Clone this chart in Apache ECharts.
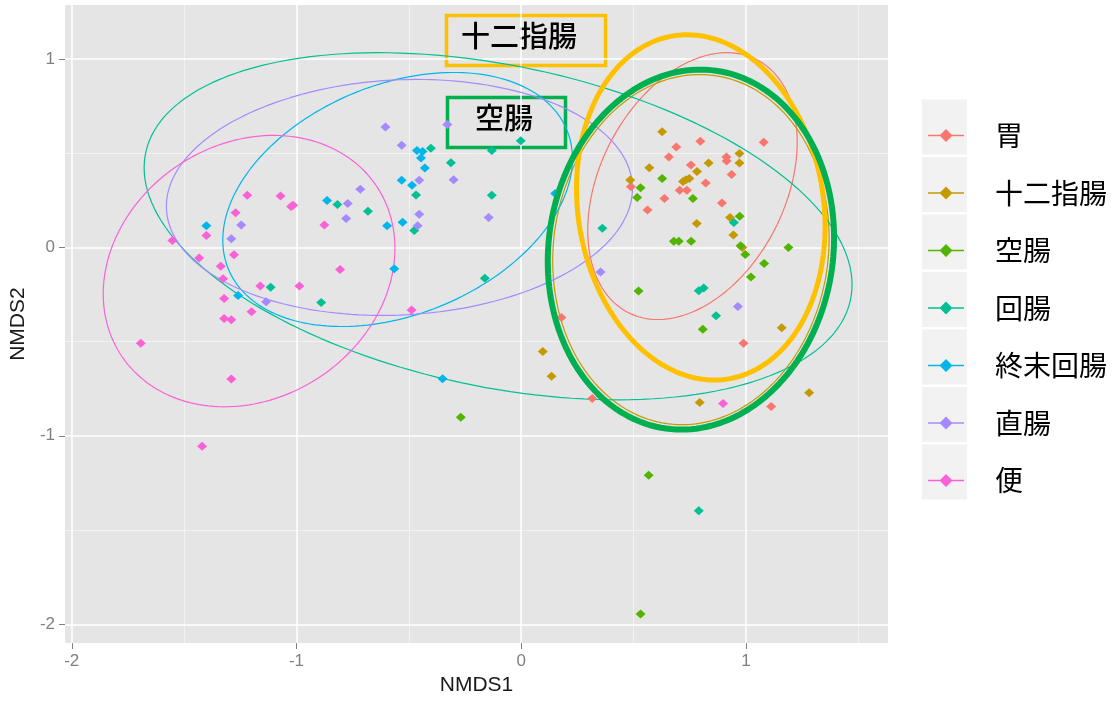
<!DOCTYPE html>
<html><head><meta charset="utf-8">
<script src="https://cdn.jsdelivr.net/npm/echarts@6/dist/echarts.min.js"></script>
<style>html,body{margin:0;padding:0;background:#fff}#c{width:1117px;height:701px}</style>
</head><body><div id="c"></div>
<script>
const categories = ['胃','十二指腸','空腸','回腸','終末回腸','直腸','便'];
const colors = ['#F8766D','#C49A00','#53B400','#00C094','#00B6EB','#A58AFF','#FB61D7'];
const xTicks = [-2,-1,0,1];
const yTicks = [-2,-1,0,1];
const xMinor = [-1.5,-0.5,0.5,1.5];
const yMinor = [-1.5,-0.5,0.5];

// NMDS1, NMDS2 per site group
const stomach = [[0.690,0.532],[0.797,0.563],[1.079,0.558],[0.657,0.479],[0.913,0.479],[0.914,0.458],[0.755,0.437],[0.936,0.386],[0.821,0.342],[0.705,0.303],[0.737,0.303],[0.637,0.259],[0.488,0.321],[0.893,0.236],[0.562,0.198],[0.179,-0.372],[0.989,-0.509],[1.112,-0.844],[0.316,-0.802]];
const duodenum = [[0.627,0.614],[0.971,0.498],[0.971,0.448],[0.834,0.448],[0.570,0.422],[0.782,0.403],[0.748,0.366],[0.733,0.359],[0.720,0.349],[0.485,0.358],[0.929,0.158],[0.781,0.126],[0.944,0.065],[0.984,-0.001],[1.159,-0.426],[0.096,-0.553],[0.135,-0.684],[0.794,-0.823],[1.281,-0.772]];
const jejunum = [[0.627,0.366],[0.531,0.316],[0.516,0.264],[0.764,0.259],[0.972,0.165],[0.679,0.033],[0.701,0.033],[0.756,0.033],[0.976,0.009],[0.997,-0.038],[1.189,-0.001],[1.081,-0.086],[1.022,-0.157],[0.522,-0.232],[0.808,-0.434],[-0.269,-0.902],[0.567,-1.209],[0.531,-1.946]];
const ileum = [[-0.818,0.228],[-0.682,0.191],[-1.115,-0.212],[-0.890,-0.293],[-0.402,0.526],[-0.313,0.449],[-0.131,0.514],[-0.468,0.278],[-0.131,0.277],[-0.476,0.090],[-0.162,-0.164],[-0.002,0.566],[0.361,0.102],[0.946,0.132],[0.790,-0.230],[0.812,-0.216],[0.867,-0.363],[0.790,-1.398]];
const terminalIleum = [[-1.401,0.115],[-0.864,0.249],[-0.597,0.115],[-0.528,0.133],[-0.532,0.356],[-0.486,0.329],[-0.464,0.514],[-0.439,0.508],[-0.446,0.474],[-0.429,0.421],[-0.565,-0.113],[-0.350,-0.697],[-1.260,-0.256],[0.151,0.286]];
const rectum = [[-0.604,0.638],[-0.532,0.542],[-0.329,0.652],[-0.716,0.308],[-0.772,0.233],[-0.779,0.153],[-1.246,0.119],[-1.290,0.045],[-1.135,-0.289],[-0.454,0.356],[-0.301,0.359],[-0.454,0.176],[-0.461,0.115],[-0.145,0.158],[0.353,-0.131],[0.964,-0.314]];
const feces = [[-1.219,0.277],[-1.071,0.272],[-1.024,0.217],[-1.015,0.224],[-1.271,0.184],[-1.401,0.063],[-1.552,0.037],[-1.278,-0.039],[-1.433,-0.056],[-1.337,-0.100],[-1.327,-0.167],[-1.161,-0.205],[-0.987,-0.205],[-0.806,-0.118],[-0.876,0.119],[-1.322,-0.271],[-1.200,-0.342],[-1.322,-0.377],[-1.290,-0.384],[-1.693,-0.509],[-1.290,-0.698],[-1.420,-1.056],[-0.488,-0.333],[0.898,-0.828]];
const groupPoints = [stomach, duodenum, jejunum, ileum, terminalIleum, rectum, feces];

// ellipse: [centerX, centerY, halfWidth, halfHeight, y-offset of rightmost point]
const ellipseStomach = [0.762, 0.325, 0.466, 0.708, 0.234];
const ellipseDuodenum = [0.755, -0.012, 0.615, 0.929, 0.060];
const ellipseJejunum = [0.755, -0.012, 0.637, 0.955, 0.063];
const ellipseIleum = [-0.103, 0.112, 1.575, 0.921, -0.310];
const ellipseTerminalIleum = [-0.550, 0.254, 0.778, 0.674, 0.216];
const ellipseRectum = [-0.542, 0.265, 1.037, 0.626, 0.047];
const ellipseFeces = [-1.211, -0.126, 0.649, 0.720, 0.121];
const groupEllipses = [ellipseStomach, ellipseDuodenum, ellipseJejunum, ellipseIleum, ellipseTerminalIleum, ellipseRectum, ellipseFeces];
// highlight rings
const highlightDuodenum = [0.799, 0.212, 0.553, 0.916, -0.100];
const highlightJejunum = [0.755, -0.012, 0.637, 0.955, 0.063];
const highlightLabels = ['十二指腸','空腸'];
const highlightColors = ['#FFC000','#00B050'];

function ellipsePath(e){
  const [cx, cy, p, H, q] = e;
  const r = Math.sqrt(Math.max(H*H - q*q, 0));
  const pts = [];
  for (let i = 0; i <= 180; i++){
    const t = i / 180 * Math.PI * 2;
    pts.push([cx + p*Math.cos(t), cy + q*Math.cos(t) + r*Math.sin(t)]);
  }
  return pts;
}

const chart = echarts.init(document.getElementById('c'), null, {renderer:'canvas'});
const series = [];
// grid lines (ggplot style): minor then major
const gridLines = [];
xMinor.forEach(v => gridLines.push({xAxis:v, lineStyle:{color:'#F2F2F2', width:1, type:'solid'}}));
yMinor.forEach(v => gridLines.push({yAxis:v, lineStyle:{color:'#F2F2F2', width:1, type:'solid'}}));
xTicks.forEach(v => gridLines.push({xAxis:v, lineStyle:{color:'#FFFFFF', width:1.5, type:'solid'}}));
yTicks.forEach(v => gridLines.push({yAxis:v, lineStyle:{color:'#FFFFFF', width:1.5, type:'solid'}}));
series.push({type:'scatter', name:'grid', data:[], z:1, silent:true,
  markLine:{silent:true, z:1, symbol:['none','none'], label:{show:false}, animation:false, data:gridLines}});

categories.forEach((name, i) => {
  series.push({type:'line', name, data: ellipsePath(groupEllipses[i]), showSymbol:false, symbol:'none', silent:true,
    lineStyle:{color:colors[i], width:1.2}, itemStyle:{color:colors[i]}, z:2, animation:false});
});
categories.forEach((name, i) => {
  series.push({type:'scatter', name, data: groupPoints[i], symbol:'diamond', symbolSize:[10,9],
    itemStyle:{color:colors[i], opacity:1}, z:3, animation:false});
});
series.push({type:'line', name:'hl1', data: ellipsePath(highlightDuodenum), showSymbol:false, symbol:'none', silent:true,
  lineStyle:{color:highlightColors[0], width:5}, z:4, animation:false});
series.push({type:'line', name:'hl2', data: ellipsePath(highlightJejunum), showSymbol:false, symbol:'none', silent:true,
  lineStyle:{color:highlightColors[1], width:6}, z:4, animation:false});

const legendTop = 120.5, legendStep = 57.5;
const graphics = [];
categories.forEach((name, i) => {
  graphics.push({type:'rect', left:922, top: legendTop + 6.5 + i*legendStep - 27.5, z:0,
    shape:{width:45, height:55}, style:{fill:'#F2F2F2'}});
});
graphics.push({type:'rect', left:444, top:13, z:1, shape:{width:159, height:50},
  style:{fill:null, stroke:highlightColors[0], lineWidth:3.5}});
graphics.push({type:'text', left:461, top:21, z:1, style:{text:highlightLabels[0], font:'500 29px "Noto Sans CJK JP"', fill:'#000'}});
graphics.push({type:'rect', left:445, top:95, z:1, shape:{width:118, height:50},
  style:{fill:null, stroke:highlightColors[1], lineWidth:3.5}});
graphics.push({type:'text', left:475, top:103, z:1, style:{text:highlightLabels[1], font:'500 29px "Noto Sans CJK JP"', fill:'#000'}});

const axisFont = '"Liberation Sans", Arial, sans-serif';
chart.setOption({
  animation:false,
  backgroundColor:'#fff',
  grid:{left:63, top:5, width:825, height:643, show:true, backgroundColor:'#E5E5E5', borderWidth:0},
  xAxis:{type:'value', min:-2.03, max:1.632,
    axisLine:{show:false, onZero:false},
    axisTick:{show:true, length:6, customValues:xTicks, lineStyle:{color:'#808080'}},
    axisLabel:{customValues:xTicks, color:'#808080', fontSize:17, fontFamily:axisFont, margin:10},
    splitLine:{show:false},
    name:'NMDS1', nameLocation:'middle', nameGap:31, nameTextStyle:{color:'#1a1a1a', fontSize:21, fontFamily:axisFont}},
  yAxis:{type:'value', min:-2.1, max:1.286,
    axisLine:{show:false, onZero:false},
    axisTick:{show:true, length:6, customValues:yTicks, lineStyle:{color:'#808080'}},
    axisLabel:{customValues:yTicks, color:'#808080', fontSize:17, fontFamily:axisFont, margin:10},
    splitLine:{show:false},
    name:'NMDS2', nameLocation:'middle', nameGap:29, nameTextStyle:{color:'#1a1a1a', fontSize:21, fontFamily:axisFont}},
  legend:{orient:'vertical', left:928, top:legendTop, padding:0, itemGap:27.5, itemWidth:36, itemHeight:13,
    data: categories.map((name,i)=>({name, icon:'path://M0,5.7 L36,5.7 L36,7.3 L0,7.3 Z M18,0 L24.5,6.5 L18,13 L11.5,6.5 Z', itemStyle:{color:colors[i]}})),
    textStyle:{fontSize:28, color:'#000', fontFamily:'"Noto Sans CJK JP"', lineHeight:30, padding:[0,0,0,26]},
    selectedMode:false},
  graphic: graphics,
  series
});
</script></body></html>
